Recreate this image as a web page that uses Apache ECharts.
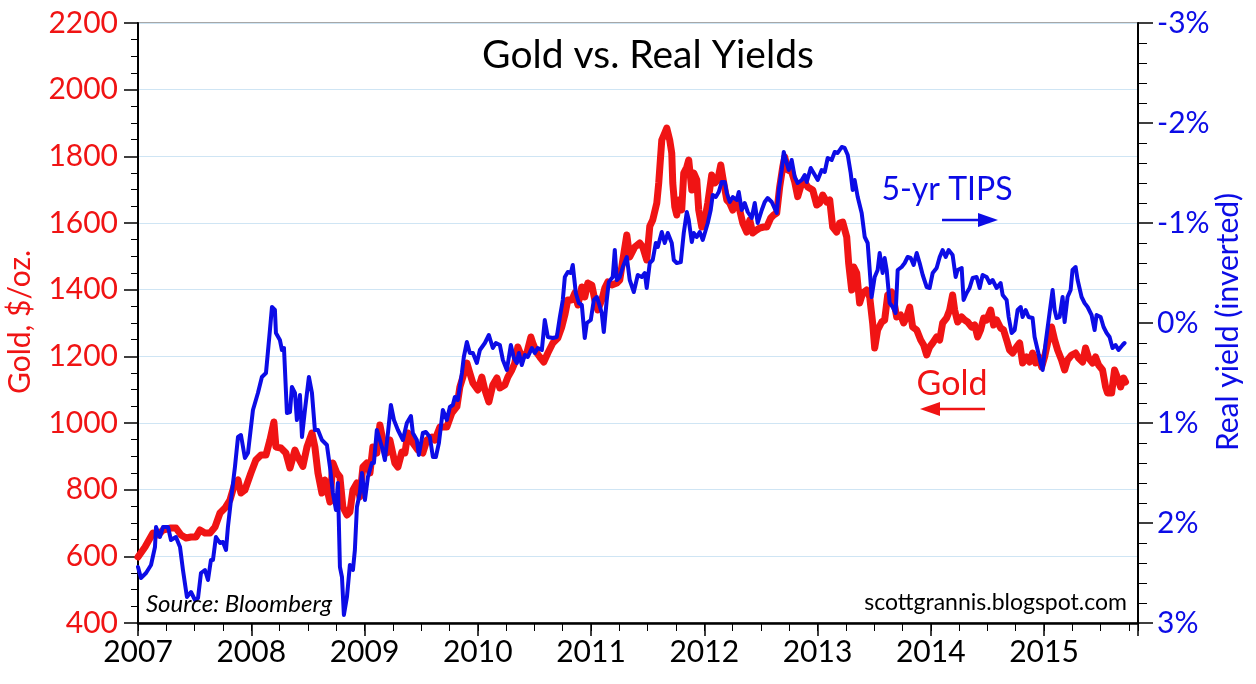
<!DOCTYPE html>
<html>
<head>
<meta charset="utf-8">
<script src="https://cdn.jsdelivr.net/npm/echarts@6/dist/echarts.min.js"></script>
<style>
html,body{margin:0;padding:0;background:#fff;}
#chart{width:1256px;height:684px;}
</style>
</head>
<body>
<div id="chart"></div>
<script>
// ---- Data ----
const yearTicks = [2007, 2008, 2009, 2010, 2011, 2012, 2013, 2014, 2015];

const goldYears = [2007.000,2007.062,2007.132,2007.177,2007.221,2007.291,2007.335,2007.380,2007.424,2007.468,2007.512,2007.547,2007.591,2007.636,2007.680,2007.724,2007.768,2007.812,2007.856,2007.883,2007.909,2007.944,2007.997,2008.041,2008.086,2008.130,2008.165,2008.200,2008.218,2008.262,2008.306,2008.342,2008.386,2008.412,2008.456,2008.492,2008.536,2008.562,2008.589,2008.624,2008.650,2008.695,2008.721,2008.756,2008.783,2008.809,2008.845,2008.871,2008.898,2008.933,2008.959,2008.986,2009.021,2009.048,2009.074,2009.109,2009.136,2009.162,2009.198,2009.224,2009.268,2009.295,2009.330,2009.357,2009.383,2009.427,2009.471,2009.515,2009.551,2009.595,2009.621,2009.666,2009.727,2009.771,2009.816,2009.842,2009.869,2009.904,2009.930,2009.957,2010.001,2010.036,2010.063,2010.098,2010.133,2010.169,2010.195,2010.239,2010.266,2010.301,2010.327,2010.354,2010.389,2010.433,2010.469,2010.486,2010.522,2010.548,2010.583,2010.619,2010.663,2010.707,2010.742,2010.769,2010.795,2010.831,2010.857,2010.884,2010.919,2010.945,2010.972,2011.007,2011.034,2011.060,2011.095,2011.122,2011.148,2011.184,2011.228,2011.254,2011.281,2011.316,2011.342,2011.387,2011.431,2011.457,2011.492,2011.519,2011.545,2011.581,2011.598,2011.625,2011.651,2011.669,2011.695,2011.713,2011.722,2011.740,2011.757,2011.775,2011.801,2011.819,2011.846,2011.863,2011.890,2011.907,2011.934,2011.951,2011.978,2012.004,2012.031,2012.066,2012.093,2012.119,2012.146,2012.163,2012.199,2012.225,2012.252,2012.287,2012.313,2012.340,2012.375,2012.402,2012.428,2012.463,2012.490,2012.525,2012.552,2012.587,2012.613,2012.640,2012.666,2012.693,2012.711,2012.737,2012.772,2012.799,2012.825,2012.861,2012.887,2012.914,2012.958,2012.993,2013.019,2013.046,2013.081,2013.108,2013.134,2013.169,2013.196,2013.222,2013.258,2013.275,2013.302,2013.320,2013.346,2013.372,2013.399,2013.434,2013.461,2013.487,2013.505,2013.531,2013.567,2013.593,2013.620,2013.655,2013.673,2013.699,2013.734,2013.761,2013.787,2013.814,2013.840,2013.876,2013.911,2013.937,2013.964,2013.990,2014.017,2014.052,2014.079,2014.105,2014.140,2014.167,2014.193,2014.211,2014.237,2014.273,2014.299,2014.326,2014.361,2014.388,2014.414,2014.440,2014.467,2014.493,2014.529,2014.555,2014.582,2014.617,2014.643,2014.670,2014.696,2014.723,2014.758,2014.785,2014.811,2014.846,2014.873,2014.899,2014.926,2014.952,2014.979,2015.005,2015.032,2015.067,2015.094,2015.120,2015.155,2015.182,2015.208,2015.244,2015.279,2015.305,2015.341,2015.367,2015.394,2015.429,2015.455,2015.482,2015.517,2015.544,2015.561,2015.597,2015.623,2015.650,2015.676,2015.703,2015.720];

const goldValues = [598,628,670,664,679,685,685,664,655,658,658,679,670,670,688,730,745,769,820,829,790,799,850,889,904,904,949,1003,928,925,910,865,919,898,870,928,970,928,850,790,829,763,880,850,838,748,724,733,799,820,778,868,880,850,928,910,994,949,910,949,880,868,913,910,970,940,919,910,949,958,949,988,988,1030,1049,1108,1138,1180,1150,1120,1099,1138,1099,1063,1114,1135,1105,1114,1138,1159,1180,1228,1198,1210,1258,1240,1210,1198,1183,1210,1240,1255,1288,1324,1369,1369,1390,1354,1408,1378,1420,1414,1369,1339,1369,1405,1423,1414,1420,1429,1489,1564,1498,1528,1540,1528,1489,1590,1609,1660,1720,1849,1870,1885,1849,1810,1720,1648,1624,1669,1639,1750,1768,1789,1699,1750,1729,1639,1588,1609,1660,1744,1720,1729,1774,1738,1669,1660,1639,1669,1639,1600,1573,1609,1570,1579,1585,1588,1588,1615,1624,1630,1708,1768,1798,1759,1753,1723,1679,1720,1723,1708,1699,1654,1660,1684,1663,1669,1588,1573,1600,1603,1558,1480,1399,1468,1450,1360,1390,1399,1378,1300,1225,1279,1303,1309,1384,1393,1369,1318,1324,1300,1318,1348,1288,1279,1249,1234,1204,1228,1240,1258,1249,1300,1315,1339,1384,1339,1303,1318,1309,1303,1288,1294,1258,1279,1315,1309,1339,1294,1309,1285,1279,1249,1219,1210,1228,1240,1180,1198,1183,1210,1180,1198,1168,1198,1240,1288,1249,1219,1189,1159,1189,1204,1210,1195,1183,1225,1195,1180,1198,1174,1159,1108,1090,1090,1159,1135,1108,1135,1123];

const tipsYears = [2007.000,2007.026,2007.071,2007.115,2007.150,2007.159,2007.194,2007.221,2007.265,2007.291,2007.335,2007.371,2007.397,2007.432,2007.468,2007.503,2007.530,2007.556,2007.591,2007.618,2007.644,2007.662,2007.688,2007.724,2007.750,2007.777,2007.794,2007.821,2007.856,2007.883,2007.909,2007.944,2007.971,2008.015,2008.059,2008.094,2008.130,2008.165,2008.183,2008.209,2008.218,2008.253,2008.271,2008.289,2008.315,2008.342,2008.359,2008.386,2008.403,2008.430,2008.448,2008.474,2008.509,2008.536,2008.562,2008.589,2008.624,2008.668,2008.695,2008.721,2008.748,2008.765,2008.783,2008.801,2008.818,2008.845,2008.871,2008.898,2008.915,2008.933,2008.959,2008.977,2009.004,2009.030,2009.065,2009.083,2009.109,2009.154,2009.180,2009.207,2009.233,2009.260,2009.295,2009.339,2009.374,2009.410,2009.427,2009.462,2009.480,2009.515,2009.542,2009.577,2009.604,2009.630,2009.657,2009.692,2009.727,2009.754,2009.780,2009.798,2009.824,2009.860,2009.877,2009.904,2009.930,2009.957,2009.992,2010.019,2010.063,2010.098,2010.133,2010.160,2010.195,2010.222,2010.257,2010.292,2010.319,2010.345,2010.363,2010.389,2010.416,2010.442,2010.478,2010.504,2010.530,2010.566,2010.592,2010.619,2010.663,2010.698,2010.725,2010.751,2010.769,2010.795,2010.822,2010.839,2010.866,2010.892,2010.919,2010.945,2010.963,2010.998,2011.025,2011.051,2011.069,2011.095,2011.113,2011.139,2011.157,2011.192,2011.210,2011.228,2011.254,2011.281,2011.316,2011.342,2011.378,2011.413,2011.448,2011.475,2011.492,2011.519,2011.545,2011.572,2011.590,2011.625,2011.651,2011.678,2011.713,2011.731,2011.757,2011.793,2011.819,2011.846,2011.863,2011.890,2011.907,2011.934,2011.960,2011.987,2012.013,2012.031,2012.057,2012.075,2012.102,2012.128,2012.154,2012.181,2012.199,2012.225,2012.252,2012.287,2012.305,2012.331,2012.357,2012.384,2012.419,2012.446,2012.472,2012.508,2012.534,2012.560,2012.596,2012.613,2012.640,2012.658,2012.684,2012.702,2012.728,2012.746,2012.772,2012.799,2012.825,2012.861,2012.887,2012.905,2012.940,2012.966,2013.002,2013.037,2013.064,2013.090,2013.125,2013.152,2013.178,2013.214,2013.240,2013.267,2013.293,2013.311,2013.328,2013.355,2013.390,2013.417,2013.443,2013.461,2013.478,2013.505,2013.531,2013.549,2013.575,2013.593,2013.611,2013.637,2013.664,2013.690,2013.708,2013.743,2013.770,2013.796,2013.823,2013.849,2013.876,2013.902,2013.929,2013.964,2013.990,2014.017,2014.052,2014.079,2014.105,2014.132,2014.158,2014.193,2014.220,2014.237,2014.273,2014.290,2014.317,2014.343,2014.370,2014.405,2014.432,2014.458,2014.493,2014.520,2014.546,2014.582,2014.617,2014.635,2014.670,2014.688,2014.714,2014.741,2014.767,2014.794,2014.811,2014.838,2014.864,2014.899,2014.917,2014.944,2014.970,2014.988,2015.014,2015.041,2015.076,2015.094,2015.111,2015.138,2015.164,2015.182,2015.208,2015.235,2015.252,2015.279,2015.297,2015.332,2015.358,2015.385,2015.420,2015.447,2015.464,2015.500,2015.526,2015.553,2015.579,2015.605,2015.632,2015.658,2015.694,2015.711];

const tipsValues = [2.44,2.55,2.50,2.42,2.24,2.04,2.14,2.04,2.04,2.17,2.14,2.24,2.47,2.74,2.69,2.77,2.75,2.50,2.47,2.57,2.37,2.37,2.14,2.20,2.19,2.27,2.04,1.77,1.44,1.14,1.12,1.35,1.30,0.87,0.70,0.54,0.50,0.07,-0.16,-0.13,0.10,0.17,0.27,0.25,0.90,0.89,0.64,0.70,0.97,0.72,1.14,0.87,0.54,0.70,1.07,1.07,1.17,1.22,1.44,1.70,1.87,1.60,2.44,2.54,2.92,2.74,2.42,2.47,2.27,1.84,1.70,1.50,1.77,1.54,1.40,1.40,1.07,1.24,1.37,1.10,0.82,0.97,1.07,1.17,1.00,0.93,1.10,1.17,1.32,1.10,1.09,1.14,1.34,1.34,1.20,0.87,0.97,0.84,0.82,0.74,0.77,0.50,0.34,0.19,0.30,0.30,0.40,0.27,0.20,0.12,0.25,0.20,0.22,0.37,0.47,0.22,0.35,0.40,0.30,0.42,0.32,0.34,0.25,0.30,0.25,0.27,-0.03,0.14,0.15,0.14,-0.06,-0.23,-0.46,-0.51,-0.50,-0.58,-0.30,-0.20,-0.18,0.15,0.00,-0.03,-0.23,-0.26,-0.20,-0.10,0.09,-0.23,-0.41,-0.46,-0.73,-0.43,-0.46,-0.56,-0.66,-0.43,-0.31,-0.48,-0.46,-0.50,-0.35,-0.60,-0.63,-0.80,-0.76,-0.91,-0.80,-0.90,-0.80,-0.63,-0.60,-0.61,-0.90,-1.11,-1.03,-0.81,-0.90,-0.86,-0.91,-0.83,-0.93,-1.00,-1.13,-1.28,-1.26,-1.31,-1.41,-1.41,-1.30,-1.21,-1.26,-1.23,-1.31,-1.13,-1.20,-1.11,-1.05,-1.20,-1.00,-1.13,-1.21,-1.25,-1.21,-1.23,-1.10,-1.33,-1.53,-1.71,-1.60,-1.53,-1.63,-1.46,-1.40,-1.43,-1.48,-1.41,-1.55,-1.50,-1.43,-1.53,-1.51,-1.65,-1.63,-1.71,-1.70,-1.76,-1.75,-1.68,-1.50,-1.33,-1.43,-1.26,-1.10,-0.86,-0.80,-0.53,-0.26,-0.46,-0.53,-0.70,-0.50,-0.65,-0.53,-0.20,-0.16,-0.10,-0.53,-0.56,-0.60,-0.66,-0.65,-0.58,-0.70,-0.60,-0.48,-0.36,-0.35,-0.50,-0.55,-0.66,-0.73,-0.66,-0.73,-0.68,-0.46,-0.53,-0.55,-0.23,-0.30,-0.35,-0.45,-0.46,-0.35,-0.48,-0.46,-0.40,-0.43,-0.35,-0.40,-0.28,-0.23,-0.06,0.10,0.07,-0.13,-0.16,-0.06,-0.13,-0.06,-0.05,0.14,0.27,0.40,0.47,0.20,-0.03,-0.33,-0.13,-0.05,-0.06,-0.26,-0.01,-0.26,-0.33,-0.53,-0.56,-0.43,-0.26,-0.20,-0.16,-0.08,0.07,-0.08,-0.06,0.04,0.10,0.14,0.25,0.22,0.27,0.22,0.20];

const goldTicks = {min: 400, max: 2200, step: 200};
const yieldTicks = {min: -3, max: 3, step: 1};
const xRange = {min: 2007, max: 2015.83};

// ---- Chart ----
const FONT = 'Lato, "DejaVu Sans", sans-serif';
const RED = '#f01414';
const BLUE = '#0c0ce6';
const goldData = goldYears.map((x, i) => [x, goldValues[i]]);
const tipsData = tipsYears.map((x, i) => [x, tipsValues[i]]);

const chart = echarts.init(document.getElementById('chart'), null, {renderer: 'canvas'});
chart.setOption({
  animation: false,
  backgroundColor: '#ffffff',
  grid: {left: 138, right: 118, top: 23, bottom: 61, show: true, borderColor: '#8a8a8a', borderWidth: 1.5, backgroundColor: 'transparent'},
  xAxis: [{
    type: 'value', min: xRange.min, max: xRange.max, interval: 1, position: 'bottom',
    axisLine: {show: true, onZero: false, lineStyle: {color: '#000', width: 2.5}},
    axisTick: {show: true, length: 13, lineStyle: {color: '#000', width: 1.5}},
    axisLabel: {show: true, margin: 14, color: '#000', fontFamily: FONT, fontSize: 30,
      formatter: v => yearTicks.indexOf(Math.round(v * 1000) / 1000) >= 0 ? String(v) : ''},
    splitLine: {show: false}
  }, {
    type: 'value', min: xRange.min, max: xRange.max, interval: 0.25, position: 'bottom',
    axisLine: {show: false, onZero: false},
    axisTick: {show: true, length: 8, lineStyle: {color: '#000', width: 1}},
    axisLabel: {show: false},
    splitLine: {show: false}
  }],
  yAxis: [{
    type: 'value', min: goldTicks.min, max: goldTicks.max, interval: goldTicks.step, position: 'left',
    axisLine: {show: true, onZero: false, lineStyle: {color: '#000', width: 2}},
    axisTick: {show: true, length: 14, lineStyle: {color: '#000', width: 1.5}},
    minorTick: {show: true, splitNumber: 4, length: 7, lineStyle: {color: '#000', width: 1}},
    axisLabel: {margin: 20, color: RED, fontFamily: FONT, fontSize: 30, formatter: v => String(v)},
    splitLine: {show: true, lineStyle: {color: '#cfe5f4', width: 1.2}}
  }, {
    type: 'value', min: yieldTicks.min, max: yieldTicks.max, interval: yieldTicks.step, position: 'right', inverse: true,
    axisLine: {show: true, onZero: false, lineStyle: {color: '#000', width: 2}},
    axisTick: {show: true, length: 15, lineStyle: {color: '#000', width: 1.5}},
    minorTick: {show: true, splitNumber: 5, length: 9, lineStyle: {color: '#000', width: 1}},
    axisLabel: {margin: 19, color: BLUE, fontFamily: FONT, fontSize: 30, formatter: v => v + '%'},
    splitLine: {show: false}
  }],
  series: [{
    name: 'Gold', type: 'line', xAxisIndex: 0, yAxisIndex: 0, data: goldData,
    showSymbol: false, symbol: 'none', z: 3,
    lineStyle: {color: RED, width: 7, join: 'round', cap: 'round'}
  }, {
    name: '5-yr TIPS', type: 'line', xAxisIndex: 0, yAxisIndex: 1, data: tipsData,
    showSymbol: false, symbol: 'none', z: 4,
    lineStyle: {color: BLUE, width: 4, join: 'round', cap: 'round'}
  }],
  graphic: [
    {type: 'text', x: 648, y: 55, style: {text: 'Gold vs. Real Yields', fill: '#000', font: '39px ' + FONT, textAlign: 'center', textVerticalAlign: 'middle'}, z: 10},
    {type: 'text', x: 20, y: 322, rotation: Math.PI / 2, style: {text: 'Gold, $/oz.', fill: RED, font: '30px ' + FONT, textAlign: 'center', textVerticalAlign: 'middle'}, z: 10},
    {type: 'text', x: 1228, y: 322, rotation: Math.PI / 2, style: {text: 'Real yield (inverted)', fill: BLUE, font: '30px ' + FONT, textAlign: 'center', textVerticalAlign: 'middle'}, z: 10},
    {type: 'text', x: 947, y: 190, style: {text: '5-yr TIPS', fill: BLUE, font: '32px ' + FONT, textAlign: 'center', textVerticalAlign: 'middle'}, z: 10},
    {type: 'line', shape: {x1: 942, y1: 220, x2: 984, y2: 220}, style: {stroke: BLUE, lineWidth: 2.5}, z: 10},
    {type: 'polygon', shape: {points: [[978, 213], [998, 220], [978, 227]]}, style: {fill: BLUE}, z: 10},
    {type: 'text', x: 952, y: 384, style: {text: 'Gold', fill: RED, font: '34px ' + FONT, textAlign: 'center', textVerticalAlign: 'middle'}, z: 10},
    {type: 'line', shape: {x1: 935, y1: 409, x2: 985, y2: 409}, style: {stroke: RED, lineWidth: 2.5}, z: 10},
    {type: 'polygon', shape: {points: [[940, 402], [920, 409], [940, 416]]}, style: {fill: RED}, z: 10},
    {type: 'text', x: 146, y: 604, style: {text: 'Source: Bloomberg', fill: '#000', font: 'italic 24px ' + FONT, textAlign: 'left', textVerticalAlign: 'middle'}, z: 10},
    {type: 'text', x: 1127, y: 603, style: {text: 'scottgrannis.blogspot.com', fill: '#000', font: '23px ' + FONT, textAlign: 'right', textVerticalAlign: 'middle'}, z: 10}
  ]
});
</script>
</body>
</html>
